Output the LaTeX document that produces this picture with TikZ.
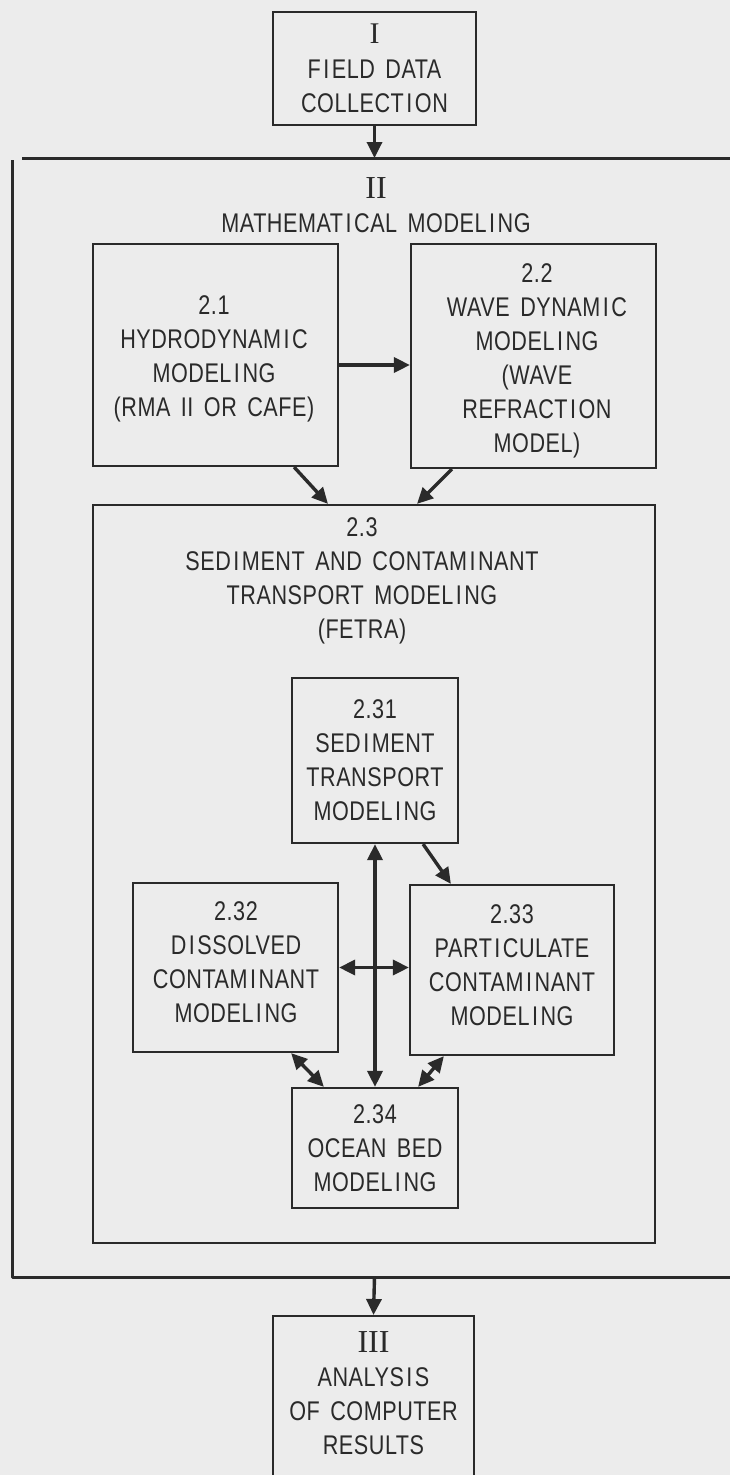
\documentclass[tikz,border=0pt]{standalone}
\usepackage{fontspec}
\setmainfont{Liberation Sans}[FakeStretch=0.8, LetterSpace=2, WordSpace=1.6]
\newfontfamily\romf{Liberation Serif}
\usetikzlibrary{arrows.meta}
\definecolor{paper}{RGB}{236,236,236}
\definecolor{ink}{RGB}{42,42,42}
% typewriter-like wide cell around the letter I
\XeTeXinterchartokenstate=1
\newXeTeXintercharclass\Iclass
\XeTeXcharclass`I=\Iclass
\XeTeXinterchartoks 0 \Iclass = {\kern2.5pt}
\XeTeXinterchartoks \Iclass 0 = {\kern2.5pt}
\begin{document}
\begin{tikzpicture}[x=1pt,y=-1pt,
  box/.style={draw=ink, line width=2.2pt, inner sep=0pt, align=center, text=ink, font=\fontsize{27}{34}\selectfont},
  txt/.style={inner sep=0pt, align=center, text=ink, font=\fontsize{27}{34}\selectfont},
  conn/.style={draw=ink, line width=3.4pt, -{Triangle[length=16pt,width=15pt]}},
  dconn/.style={draw=ink, line width=3.4pt, {Triangle[length=16pt,width=15pt]}-{Triangle[length=16pt,width=15pt]}},
  framel/.style={draw=ink, line width=3pt}]
\fill[paper] (0,0) rectangle (730,1475);
\useasboundingbox (0,0) rectangle (730,1475);
\clip (0,0) rectangle (730,1475);

% frame II
\draw[framel] (730,158) -- (22,158);
\draw[framel, line join=round] (12,160) -- (12,1277) -- (730,1277);
\coordinate (ftop) at (374.5,158);
\coordinate (fbot) at (374.5,1277);

% box I
\node[box, minimum width=203pt, minimum height=113pt] (b1) at (374.5,68.5)
  {{\romf\fontsize{30}{35}\selectfont I}\\[1pt]FIELD DATA\\COLLECTION};
\node[txt] (t2) at (376,205)
  {{\romf\fontsize{32}{35}\selectfont II}\\MATHEMATICAL MODELING};

% boxes 2.1 and 2.2
\node[box, minimum width=245pt, minimum height=222pt] (b21) at (215.5,355) {};
\node[txt] (t21) at (214,358.5)
  {2.1\\HYDRODYNAMIC\\MODELING\\(RMA II OR CAFE)};
\node[box, minimum width=245pt, minimum height=224pt] (b22) at (533.5,356) {};
\node[txt] (t22) at (537,361)
  {2.2\\WAVE DYNAMIC\\MODELING\\(WAVE\\REFRACTION\\MODEL)};

% box 2.3
\node[box, minimum width=562pt, minimum height=738pt] (b23) at (374,874) {};
\node[txt] (t23) at (362,581)
  {2.3\\SEDIMENT AND CONTAMINANT\\TRANSPORT MODELING\\(FETRA)};

% inner boxes
\node[box, minimum width=166pt, minimum height=165pt] (b231) at (375,760.5)
  {2.31\\SEDIMENT\\TRANSPORT\\MODELING};
\node[box, minimum width=205pt, minimum height=169pt] (b232) at (235.5,967.5) {};
\node[txt] (t232) at (236,962)
  {2.32\\DISSOLVED\\CONTAMINANT\\MODELING};
\node[box, minimum width=204pt, minimum height=170pt] (b233) at (512,970) {};
\node[txt] (t233) at (512,965)
  {2.33\\PARTICULATE\\CONTAMINANT\\MODELING};
\node[box, minimum width=166pt, minimum height=120pt] (b234) at (375,1148)
  {2.34\\OCEAN BED\\MODELING};

% box III
\node[box, minimum width=201pt, minimum height=200pt, anchor=north] (b3) at (373.5,1315) {};
\node[txt] (t3) at (373.5,1393)
  {{\romf\fontsize{32}{33}\selectfont III}\\ANALYSIS\\OF COMPUTER\\RESULTS};

% connectors
\draw[conn] (b1.south) -- (ftop);
\draw[conn] (fbot) -- (b3.north);
\draw[conn] ([yshift=-10pt]b21.east) -- ([yshift=-10pt]b21.east -| b22.west);
\draw[conn] ([xshift=-45pt]b21.south east) -- ([xshift=-46pt]b23.north);
\draw[conn] ([xshift=42pt]b22.south west) -- ([xshift=43pt]b23.north);
\draw[conn] ([xshift=-36pt]b231.south east) -- ([xshift=42pt]b233.north west);
\draw[dconn] (b231.south) -- (b234.north);
\draw[dconn] (b232.east) -- (b232.east -| b233.west);
\draw[dconn] ([xshift=-48pt]b232.south east) -- ([xshift=33pt]b234.north west);
\draw[dconn] ([xshift=35pt]b233.south west) -- ([xshift=-41pt]b234.north east);
\end{tikzpicture}
\end{document}
